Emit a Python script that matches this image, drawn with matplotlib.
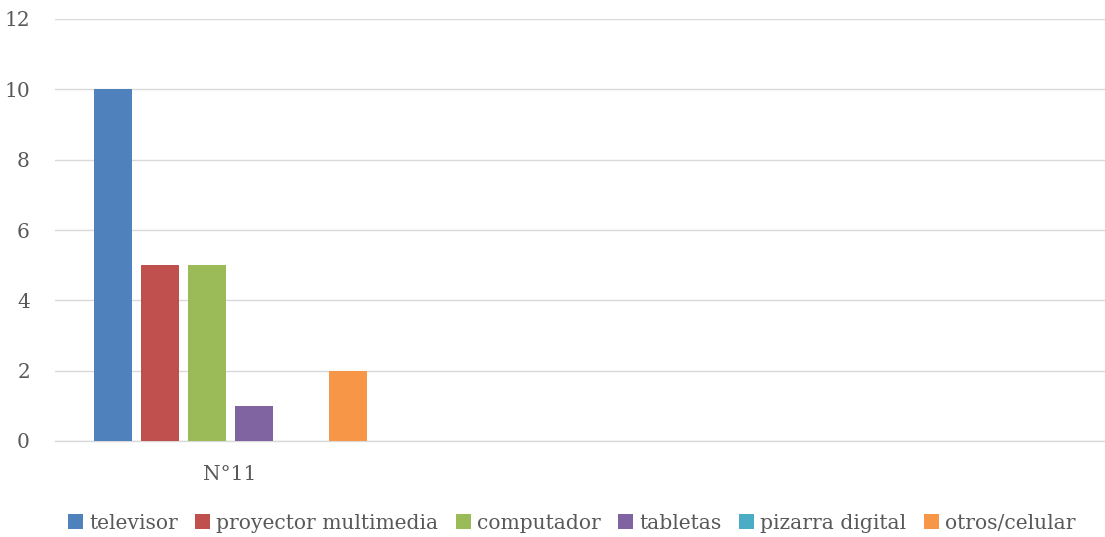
import matplotlib.pyplot as plt
import numpy as np

plt.rcParams['font.family'] = ['DejaVu Serif']

# Datos
categorias = ['N°11', '', '']
series = ['televisor', 'proyector multimedia', 'computador', 'tabletas',
          'pizarra digital', 'otros/celular']
valores = [
    [10, 0, 0],
    [5, 0, 0],
    [5, 0, 0],
    [1, 0, 0],
    [0, 0, 0],
    [2, 0, 0],
]
colores = ['#4F81BD', '#C0504D', '#9BBB59', '#8064A2', '#4BACC6', '#F79646']

fig = plt.figure(figsize=(11.05, 5.37), dpi=100)
ax = fig.add_axes([55 / 1105, 1 - 441 / 537, 1050 / 1105, 422 / 537])

x = np.arange(len(categorias))
paso = 47 / 350
ancho = 38 / 350
for i, (nombre, vals) in enumerate(zip(series, valores)):
    off = (i - (len(series) - 1) / 2) * paso
    ax.bar(x + off, vals, width=ancho, color=colores[i], label=nombre, zorder=3)

ax.set_xlim(-0.5, 2.5)
ax.set_ylim(0, 12)
ax.set_yticks(range(0, 13, 2))
ax.set_xticks(x)
ax.set_xticklabels(categorias)
ax.grid(axis='y', color='#D9D9D9', linewidth=1, zorder=0)
for s in ['top', 'right', 'left']:
    ax.spines[s].set_visible(False)
ax.spines['bottom'].set_color('#D9D9D9')
ax.spines['bottom'].set_linewidth(1)
ax.tick_params(axis='both', length=0, labelsize=14.5, colors='#595959')
ax.tick_params(axis='x', pad=17)
ax.tick_params(axis='y', pad=18)

ax.legend(loc='center', bbox_to_anchor=(0.492, -0.195), ncol=6, frameon=False,
          fontsize=14.6, labelcolor='#595959', handlelength=0.75, handleheight=0.75,
          handletextpad=0.3, columnspacing=0.85)

fig.savefig('out.png', dpi=100)
